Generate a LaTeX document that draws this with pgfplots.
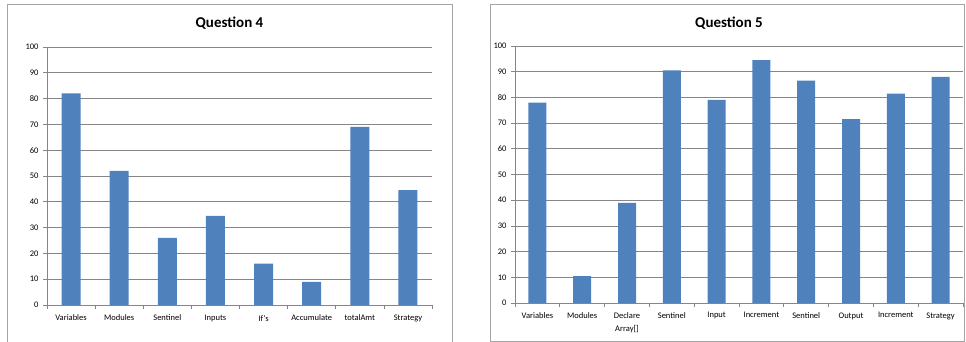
\documentclass[border=0pt]{standalone}
\usepackage{pgfplots}
\pgfplotsset{compat=1.18}
\usepackage{fontspec}
\setmainfont{Carlito}
\definecolor{barblue}{RGB}{79,129,189}
\definecolor{gridgray}{RGB}{134,134,134}
\definecolor{framegray}{RGB}{165,165,165}
\pgfplotsset{excel/.style={
  scale only axis, anchor=south west,
  ymin=0, ymax=100, ytick={0,10,...,100},
  axis x line*=bottom, axis y line*=left,
  axis line style={-, draw=gridgray, line width=0.7pt},
  ymajorgrids, major grid style={draw=gridgray, line width=0.7pt},
  tick align=outside, major tick length=4pt, minor tick length=4pt,
  tick style={draw=gridgray, line width=0.7pt},
  /pgf/number format/assume math mode=true,
  tick label style={font=\fontsize{8.5}{13}\selectfont, text=black},
  yticklabel style={xshift=-1pt},
  clip=false,
}}
\begin{document}
\begin{tikzpicture}
\useasboundingbox (0pt,0pt) rectangle (966pt,342pt);
\draw[framegray, line width=0.8pt] (7pt,-5pt) rectangle (452pt,338pt);
\draw[framegray, line width=0.8pt] (490pt,1pt) rectangle (964pt,338pt);
\node[font=\fontsize{15}{18}\selectfont\bfseries] at (229.5pt,319pt) {Question 4};
\node[font=\fontsize{15}{18}\selectfont\bfseries] at (729pt,319pt) {Question 5};
\begin{axis}[excel, at={(47pt,37pt)}, width=385pt, height=258pt,
  xmin=-0.5, xmax=7.5, xtick={-0.5,0.5,...,6.5},
  xticklabels={Variables,Modules,Sentinel,Inputs,If's,Accumulate,totalAmt,Strategy},
  xticklabel style={align=center, xshift=24.06pt, yshift=-2.5pt},
  minor xtick={7.5}]
\addplot[ybar, fill=barblue, draw=none, bar width=19pt] coordinates {
 (0,82) (1,52) (2,26) (3,34.5) (4,16) (5,9) (6,69) (7,44.5)};
\end{axis}
\begin{axis}[excel, at={(515pt,39pt)}, width=448pt, height=257pt,
  xmin=-0.5, xmax=9.5, xtick={-0.5,0.5,...,8.5},
  xticklabels={Variables,Modules,Declare\\Array[],Sentinel,Input,Increment,Sentinel,Output,Increment,Strategy},
  xticklabel style={align=center, xshift=22.4pt, yshift=-2pt},
  minor xtick={9.5}]
\addplot[ybar, fill=barblue, draw=none, bar width=18pt] coordinates {
 (0,78) (1,10.5) (2,39) (3,90.5) (4,79) (5,94.5) (6,86.5) (7,71.5) (8,81.5) (9,88)};
\end{axis}
\end{tikzpicture}
\end{document}
